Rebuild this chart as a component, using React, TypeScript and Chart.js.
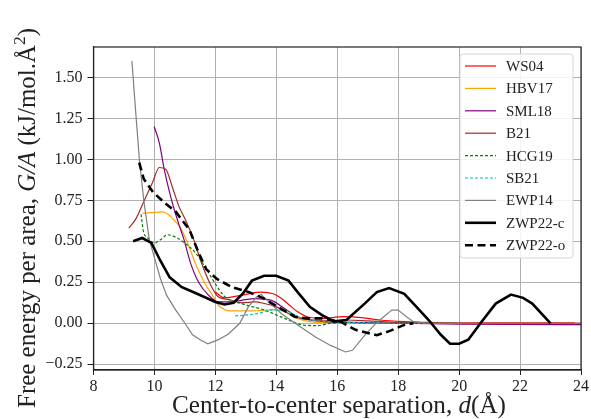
import React, { useEffect, useRef } from "react";
import { Chart, registerables } from "chart.js";

Chart.register(...registerables);

const W = 591;
const H = 419;

// ---------- data ----------
const ws04X = [12.0, 12.3, 12.97, 13.5, 13.9, 14.1, 14.5, 14.7, 15.1, 15.5, 16.2, 16.8, 17.4, 18.2, 19.0, 20.0, 22.0, 23.8];
const ws04Y = [0.19, 0.155, 0.175, 0.19, 0.18, 0.16, 0.1, 0.07, 0.035, 0.03, 0.04, 0.035, 0.02, 0.01, 0.005, 0.003, 0.002, 0.002];

const hbv17X = [9.61, 9.9, 10.26, 10.45, 10.64, 10.86, 11.13, 11.4, 11.67, 11.94, 12.1, 12.54, 13.19, 13.6, 13.94, 14.27, 14.7, 15.1, 15.6, 16.5, 18.0, 20.0, 22.0, 24.0];
const hbv17Y = [0.67, 0.675, 0.68, 0.665, 0.63, 0.58, 0.47, 0.34, 0.24, 0.16, 0.11, 0.075, 0.075, 0.08, 0.083, 0.07, 0.03, 0.01, 0.005, 0.0, 0.0, 0.0, 0.0, 0.0];

const sml18X = [9.99, 10.16, 10.32, 10.48, 10.64, 10.81, 10.97, 11.18, 11.45, 11.78, 12.1, 12.5, 12.86, 13.3, 13.84, 14.27, 14.7, 15.13, 15.6, 16.5, 18.0, 20.0, 22.0, 24.0];
const sml18Y = [1.2, 1.1, 0.94, 0.81, 0.7, 0.6, 0.51, 0.37, 0.25, 0.17, 0.13, 0.13, 0.14, 0.15, 0.14, 0.09, 0.04, 0.02, 0.01, 0.005, 0.0, -0.005, -0.007, -0.008];

const b21X = [9.16, 9.4, 9.67, 9.94, 10.16, 10.37, 10.59, 10.81, 11.02, 11.29, 11.56, 11.83, 12.1, 12.43, 12.86, 13.3, 13.62, 14.0, 14.4, 14.8, 15.2, 15.6, 16.3, 17.0, 18.0, 20.0, 22.0, 24.0];
const b21Y = [0.58, 0.64, 0.75, 0.86, 0.95, 0.94, 0.83, 0.71, 0.63, 0.51, 0.36, 0.24, 0.16, 0.145, 0.125, 0.13, 0.12, 0.1, 0.06, 0.03, 0.02, 0.015, 0.02, 0.015, 0.005, 0.0, 0.0, 0.0];

const hcg19X = [9.56, 9.64, 9.78, 10.0, 10.2, 10.43, 10.75, 10.91, 11.35, 11.67, 12.0, 12.32, 12.86, 13.62, 14.27, 14.92, 15.35, 15.78, 16.3, 17.0, 18.0, 19.0, 20.0];
const hcg19Y = [0.665, 0.56, 0.52, 0.49, 0.51, 0.54, 0.52, 0.5, 0.43, 0.34, 0.24, 0.16, 0.12, 0.08, 0.03, -0.012, -0.014, 0.0, 0.005, 0.0, 0.0, 0.0, 0.0];

const sb21X = [12.65, 13.0, 13.4, 13.84, 14.27, 14.7, 15.13, 15.6, 16.5, 18.0, 20.0];
const sb21Y = [0.045, 0.05, 0.06, 0.08, 0.08, 0.04, 0.02, 0.01, 0.005, 0.0, 0.0];

const ewp14X = [9.26, 9.38, 9.51, 9.65, 9.83, 10.0, 10.2, 10.4, 10.7, 11.0, 11.25, 11.5, 11.75, 12.1, 12.43, 12.8, 13.08, 13.35, 13.5, 13.7, 14.16, 14.7, 15.3, 15.78, 16.27, 16.5, 16.87, 17.3, 17.79, 18.0, 18.27, 18.5, 19.0, 20.0, 22.0, 24.0];
const ewp14Y = [1.6, 1.3, 0.99, 0.75, 0.51, 0.4, 0.27, 0.17, 0.08, 0.0, -0.07, -0.1, -0.125, -0.1, -0.065, 0.0, 0.1, 0.16, 0.175, 0.14, 0.06, -0.01, -0.085, -0.135, -0.175, -0.165, -0.08, 0.005, 0.08, 0.08, 0.04, 0.01, 0.0, 0.0, 0.0, 0.0];

const zwpcX = [9.3, 9.6, 9.9, 10.2, 10.5, 10.9, 11.4, 12.0, 12.3, 12.6, 12.9, 13.2, 13.6, 14.0, 14.4, 14.7, 15.1, 15.5, 15.9, 16.3, 16.9, 17.3, 17.7, 18.2, 18.6, 19.0, 19.4, 19.7, 20.0, 20.3, 20.7, 21.2, 21.7, 22.1, 22.4, 23.0];
const zwpcY = [0.5, 0.52, 0.49, 0.38, 0.28, 0.22, 0.18, 0.13, 0.115, 0.125, 0.18, 0.26, 0.29, 0.29, 0.26, 0.19, 0.1, 0.05, 0.01, 0.02, 0.12, 0.19, 0.215, 0.18, 0.1, 0.02, -0.07, -0.125, -0.125, -0.1, 0.0, 0.12, 0.175, 0.155, 0.12, 0.0];

const zwpoX = [9.5, 9.65, 9.95, 10.3, 10.7, 11.15, 11.45, 11.7, 12.05, 12.55, 13.1, 13.6, 14.05, 14.6, 15.0, 15.5, 16.1, 16.6, 17.3, 17.75, 18.2, 18.5];
const zwpoY = [0.98, 0.88, 0.8, 0.74, 0.68, 0.57, 0.43, 0.33, 0.27, 0.22, 0.19, 0.15, 0.1, 0.04, 0.03, 0.03, 0.01, -0.04, -0.073, -0.045, -0.01, 0.0];

const xTicks = [8, 10, 12, 14, 16, 18, 20, 22, 24];
const yTicks = [-0.25, 0, 0.25, 0.5, 0.75, 1.0, 1.25, 1.5];
const yTickLabels = ["\u22120.25", "0.00", "0.25", "0.50", "0.75", "1.00", "1.25", "1.50"];

// ---------- styles ----------
const SERIF = '"Liberation Serif", "DejaVu Serif", serif';

type Series = { label: string; xs: number[]; ys: number[]; color: string; width: number; dash: number[]; smooth: boolean };
const series: Series[] = [
  { label: "WS04", xs: ws04X, ys: ws04Y, color: "#ff0000", width: 1.2, dash: [], smooth: true },
  { label: "HBV17", xs: hbv17X, ys: hbv17Y, color: "#ffa500", width: 1.2, dash: [], smooth: true },
  { label: "SML18", xs: sml18X, ys: sml18Y, color: "#800080", width: 1.2, dash: [], smooth: true },
  { label: "B21", xs: b21X, ys: b21Y, color: "#a52a2a", width: 1.2, dash: [], smooth: true },
  { label: "HCG19", xs: hcg19X, ys: hcg19Y, color: "#008000", width: 1.2, dash: [3, 2], smooth: true },
  { label: "SB21", xs: sb21X, ys: sb21Y, color: "#00bfbf", width: 1.2, dash: [3, 2], smooth: true },
  { label: "EWP14", xs: ewp14X, ys: ewp14Y, color: "#808080", width: 1.2, dash: [], smooth: false },
  { label: "ZWP22-c", xs: zwpcX, ys: zwpcY, color: "#000000", width: 2.6, dash: [], smooth: false },
  { label: "ZWP22-o", xs: zwpoX, ys: zwpoY, color: "#000000", width: 2.6, dash: [8, 4.5], smooth: false },
];

type Seg = { t: string; it?: boolean; sup?: boolean };

function drawRich(ctx: CanvasRenderingContext2D, segs: Seg[], size: number, cx: number, baseY: number) {
  const fontOf = (s: Seg) => `${s.it ? "italic " : ""}${s.sup ? size * 0.7 : size}px ${SERIF}`;
  let total = 0;
  const widths = segs.map((s) => {
    ctx.font = fontOf(s);
    const w = ctx.measureText(s.t).width;
    total += w;
    return w;
  });
  let x = cx - total / 2;
  ctx.textAlign = "left";
  ctx.textBaseline = "alphabetic";
  segs.forEach((s, i) => {
    ctx.font = fontOf(s);
    ctx.fillText(s.t, x, s.sup ? baseY - size * 0.42 : baseY);
    x += widths[i];
  });
}

function richWidth(ctx: CanvasRenderingContext2D, segs: Seg[], size: number) {
  let total = 0;
  segs.forEach((s) => {
    ctx.font = `${s.it ? "italic " : ""}${s.sup ? size * 0.7 : size}px ${SERIF}`;
    total += ctx.measureText(s.t).width;
  });
  return total;
}

const xLabel: Seg[] = [{ t: "Center-to-center separation, " }, { t: "d", it: true }, { t: "(\u00c5)" }];
const yLabel: Seg[] = [
  { t: "Free energy per area, " },
  { t: "G/A", it: true },
  { t: " (kJ/mol.\u00c5" },
  { t: "2", sup: true },
  { t: ")" },
];

const framePlugin = {
  id: "frame",
  afterDatasetsDraw(chart: any) {
    const { ctx, chartArea: a } = chart;
    ctx.save();
    ctx.strokeStyle = "#222";
    ctx.lineWidth = 1.2;
    ctx.strokeRect(a.left, a.top, a.right - a.left, a.bottom - a.top);
    ctx.restore();
  },
};

const labelsPlugin = {
  id: "axisLabels",
  afterDraw(chart: any) {
    const ctx: CanvasRenderingContext2D = chart.ctx;
    ctx.save();
    ctx.fillStyle = "#222";
    // x label: fit to ~334 px
    let size = 20;
    size = size * (334 / richWidth(ctx, xLabel, size));
    drawRich(ctx, xLabel, size, 339, 413);
    // y label: fit to ~380 px
    let ys = 20;
    ys = ys * (380 / richWidth(ctx, yLabel, ys));
    ctx.translate(35, 218);
    ctx.rotate(-Math.PI / 2);
    drawRich(ctx, yLabel, ys, 0, 0);
    ctx.restore();
  },
};

const legendPlugin = {
  id: "mplLegend",
  afterDraw(chart: any) {
    const ctx: CanvasRenderingContext2D = chart.ctx;
    const a = chart.chartArea;
    const bw = 113;
    const bh = 204;
    const bx = a.right - 121;
    const by = a.top + 7;
    ctx.save();
    ctx.beginPath();
    const r = 3;
    ctx.moveTo(bx + r, by);
    ctx.arcTo(bx + bw, by, bx + bw, by + bh, r);
    ctx.arcTo(bx + bw, by + bh, bx, by + bh, r);
    ctx.arcTo(bx, by + bh, bx, by, r);
    ctx.arcTo(bx, by, bx + bw, by, r);
    ctx.closePath();
    ctx.fillStyle = "rgba(255,255,255,0.85)";
    ctx.fill();
    ctx.strokeStyle = "#d5d5d5";
    ctx.lineWidth = 1;
    ctx.stroke();
    ctx.font = `15px ${SERIF}`;
    ctx.textBaseline = "middle";
    ctx.textAlign = "left";
    series.forEach((s, i) => {
      const y = by + 12 + i * 22.4;
      ctx.beginPath();
      ctx.setLineDash(s.dash);
      ctx.strokeStyle = s.color;
      ctx.lineWidth = s.width;
      ctx.moveTo(bx + 5, y);
      ctx.lineTo(bx + 36, y);
      ctx.stroke();
      ctx.setLineDash([]);
      ctx.fillStyle = "#222";
      ctx.fillText(s.label, bx + 46, y + 1);
    });
    ctx.restore();
  },
};

export default function App() {
  const ref = useRef<HTMLCanvasElement | null>(null);

  useEffect(() => {
    document.body.style.margin = "0";
    const canvas = ref.current;
    if (!canvas) return;
    const chart = new Chart(canvas, {
      type: "line",
      data: {
        datasets: series.map((s, i) => ({
          label: s.label,
          data: s.xs.map((x, k) => ({ x, y: s.ys[k] })),
          borderColor: s.color,
          backgroundColor: s.color,
          borderWidth: s.width,
          borderDash: s.dash,
          pointRadius: 0,
          fill: false,
          tension: 0,
          cubicInterpolationMode: s.smooth ? "monotone" : "default",
          order: series.length - i,
        })),
      },
      options: {
        animation: false,
        responsive: false,
        devicePixelRatio: 1,
        layout: { padding: { top: 47, right: 4, left: 0, bottom: 0 } },
        plugins: { legend: { display: false }, tooltip: { enabled: false } },
        scales: {
          x: {
            type: "linear",
            min: 8,
            max: 24,
            afterBuildTicks: (scale: any) => {
              scale.ticks = xTicks.map((v) => ({ value: v }));
            },
            afterFit: (scale: any) => {
              scale.height = 49;
            },
            ticks: {
              color: "#222",
              font: { family: SERIF, size: 16 },
              padding: 2,
              maxRotation: 0,
              callback: (v: any) => String(v),
            },
            grid: { color: "#b0b0b0", lineWidth: 1, tickLength: 5, tickColor: "#222", drawTicks: true },
            border: { display: true, color: "#222", width: 1.2 },
          },
          y: {
            type: "linear",
            min: -0.285,
            max: 1.685,
            afterBuildTicks: (scale: any) => {
              scale.ticks = yTicks.map((v) => ({ value: v }));
            },
            afterFit: (scale: any) => {
              scale.width = 93.5;
            },
            ticks: {
              color: "#222",
              font: { family: SERIF, size: 16 },
              padding: 5,
              callback: (v: any) => {
                const idx = yTicks.findIndex((t) => Math.abs(t - v) < 1e-9);
                return idx >= 0 ? yTickLabels[idx] : "";
              },
            },
            grid: { color: "#b0b0b0", lineWidth: 1, tickLength: 6, tickColor: "#222", drawTicks: true },
            border: { display: true, color: "#222", width: 1.2 },
          },
        },
      },
      plugins: [framePlugin, labelsPlugin, legendPlugin],
    } as any);
    return () => chart.destroy();
  }, []);

  return (
    <div style={{ position: "fixed", left: 0, top: 0, width: W, height: H, background: "#fff" }}>
      <canvas ref={ref} width={W} height={H} style={{ display: "block", width: W, height: H }} />
    </div>
  );
}
